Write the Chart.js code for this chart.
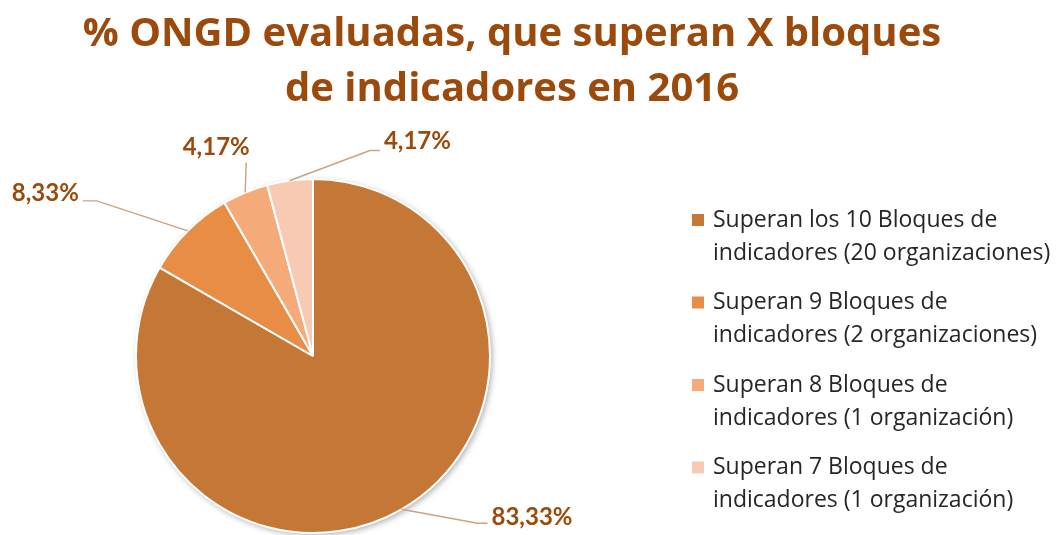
<!DOCTYPE html>
<html>
<head>
<meta charset="utf-8">
<script src="https://cdn.jsdelivr.net/npm/chart.js@4.4.1/dist/chart.umd.min.js"></script>
<style>
  html, body { margin: 0; padding: 0; background: #fff; }
  #wrap { width: 1057px; height: 535px; }
</style>
</head>
<body>
<div id="wrap"><canvas id="pie-chart"></canvas></div>
<script>
// data
const titleLines = ['% ONGD evaluadas, que superan X bloques', 'de indicadores en 2016'];
const categories = [
    ['Superan los 10 Bloques de', 'indicadores (20 organizaciones)'],
    ['Superan 9 Bloques de', 'indicadores (2 organizaciones)'],
    ['Superan 8 Bloques de', 'indicadores (1 organización)'],
    ['Superan 7 Bloques de', 'indicadores (1 organización)'],
];
const values = [83.33, 8.33, 4.17, 4.17];
const sliceColors = ['#C57836', '#E88D46', '#F5AA79', '#F8CAB3'];

const titleColor = '#9B4A0B';
const leaderColor = '#C9A280';

// leader line shape per slice: elbow and end offsets from the slice's outer mid point
const leaders = [
    { elbow: [76, 14], end: [86, 14], align: 'left', textDy: -6 },
    { elbow: [-91, -30], end: [-105, -30], align: 'right', textDy: -8 },
    { elbow: [1, -30], end: [1, -30], align: 'center', textDy: -15 },
    { elbow: [80, -30], end: [90, -30], align: 'left', textDy: -9 },
];

function fmt(v) {
    return v.toFixed(2).replace('.', ',') + '%';
}

const shadowPlugin = {
    id: 'shadow',
    beforeDatasetsDraw(chart) {
        const arc = chart.getDatasetMeta(0).data[0];
        if (!arc) return;
        const ctx = chart.ctx;
        ctx.save();
        ctx.shadowColor = 'rgba(0,0,0,0.35)';
        ctx.shadowBlur = 6;
        ctx.shadowOffsetX = 2;
        ctx.shadowOffsetY = 2;
        ctx.fillStyle = '#fff';
        ctx.beginPath();
        ctx.arc(arc.x, arc.y, arc.outerRadius, 0, Math.PI * 2);
        ctx.fill();
        ctx.restore();
    }
};

const decorPlugin = {
    id: 'decor',
    afterDraw(chart) {
        const ctx = chart.ctx;
        ctx.save();

        // title
        ctx.fillStyle = titleColor;
        ctx.font = 'bold 40px "Open Sans"';
        ctx.textAlign = 'center';
        ctx.textBaseline = 'alphabetic';
        ctx.fillText(titleLines[0], 512, 46);
        ctx.fillText(titleLines[1], 512, 101);

        // data labels with leader lines
        const meta = chart.getDatasetMeta(0);
        meta.data.forEach((arc, i) => {
            const mid = (arc.startAngle + arc.endAngle) / 2;
            const ax = arc.x + Math.cos(mid) * arc.outerRadius;
            const ay = arc.y + Math.sin(mid) * arc.outerRadius;
            const L = leaders[i];
            const ex = ax + L.end[0], ey = ay + L.end[1];
            ctx.strokeStyle = leaderColor;
            ctx.lineWidth = 1.4;
            ctx.beginPath();
            ctx.moveTo(ax, ay);
            ctx.lineTo(ax + L.elbow[0], ay + L.elbow[1]);
            ctx.lineTo(ex, ey);
            ctx.stroke();

            ctx.fillStyle = titleColor;
            ctx.font = 'bold 24px Lato';
            ctx.textBaseline = 'middle';
            ctx.textAlign = L.align;
            let tx = ex;
            if (L.align === 'left') tx = ex + 4;
            if (L.align === 'right') tx = ex - 4;
            if (L.align === 'center') tx = ex - 30;
            ctx.fillText(fmt(values[i]), tx, ey + L.textDy);
        });

        // legend
        ctx.textAlign = 'left';
        ctx.textBaseline = 'middle';
        ctx.font = '23px "Open Sans"';
        categories.forEach((lines, i) => {
            const y = 220 + i * 82.5;
            ctx.fillStyle = sliceColors[i];
            ctx.fillRect(692, y - 6, 12, 12);
            ctx.fillStyle = '#262626';
            lines.forEach((t, j) => ctx.fillText(t, 713, y + j * 33));
        });

        ctx.restore();
    }
};

new Chart(document.getElementById('pie-chart').getContext('2d'), {
    type: 'pie',
    data: {
        labels: categories.map(c => c.join(' ')),
        datasets: [{
            data: values,
            backgroundColor: sliceColors,
            borderColor: '#ffffff',
            borderWidth: 2,
        }]
    },
    options: {
        responsive: true,
        maintainAspectRatio: false,
        animation: false,
        layout: { padding: { left: 135, right: 566, top: 178, bottom: 1 } },
        plugins: {
            legend: { display: false },
            title: { display: false },
            tooltip: { enabled: false },
        }
    },
    plugins: [shadowPlugin, decorPlugin],
});
</script>
</body>
</html>
